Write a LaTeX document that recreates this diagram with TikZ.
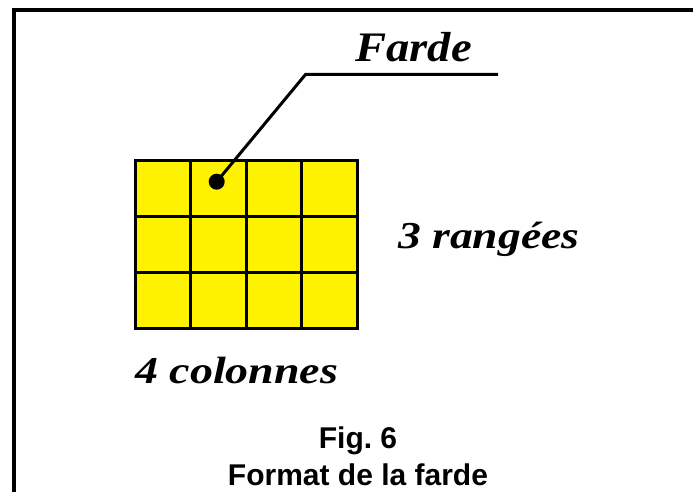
\documentclass[tikz,border=0pt]{standalone}
\usepackage{fontspec}
\setmainfont{Liberation Serif}
\newfontfamily\capfont{Liberation Sans}
\tikzset{
  cell/.style={draw=black, fill=yellow, line width=3pt},
  lab/.style={inner sep=0pt, anchor=base west, font=\bfseries\itshape},
  captext/.style={inner sep=0pt, anchor=base, font=\capfont\bfseries\fontsize{30}{32}\selectfont},
  lead/.style={line width=3pt, line join=miter},
}
\begin{document}
\begin{tikzpicture}[x=1pt, y=-1pt]
\useasboundingbox (0,0) rectangle (693,492);
% frame
\draw[line width=3.6pt] (13.7,500) -- (13.7,10.2) -- (700,10.2);
% grid
\foreach \i in {0,1,2,3} {
  \foreach \j in {0,1,2} {
    \draw[cell] ({135+\i*55.6},{160+\j*56.1}) rectangle ++(55.6,56.1);
  }
}
% dot and leader
\coordinate (dot) at (216.7,181.7);
\coordinate (corner) at (305.5,74.5);
\coordinate (lend) at (498,74.5);
\draw[lead] (dot) -- (corner) -- (lend);
\fill (dot) circle (8);
% labels
\node[lab] (farde) at (355,61.7) {\fontsize{42}{44}\selectfont\scalebox{1.11}[1]{Farde}};
\node[lab] (rang) at (398,248) {\fontsize{38}{40}\selectfont\scalebox{1.2}[1]{3 rangées}};
\node[lab] (col) at (135,383) {\fontsize{38}{40}\selectfont\scalebox{1.21}[1]{4 colonnes}};
\node[captext] (fig) at (358,448.3) {Fig.\ 6};
\node[captext] (fmt) at (358,485) {Format de la farde};
\end{tikzpicture}
\end{document}
